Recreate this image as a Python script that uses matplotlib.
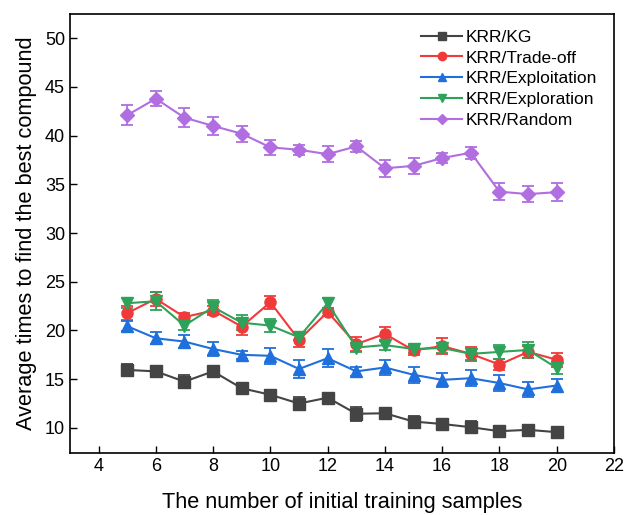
import matplotlib
matplotlib.use('Agg')
import matplotlib.pyplot as plt
import numpy as np

plt.rcParams['font.family'] = ['Liberation Sans', 'DejaVu Sans']

# 初始训练样本数
samples = np.arange(5, 21)

# 各策略的平均次数和误差
kg = [15.95, 15.8, 14.75, 15.8, 14.07, 13.4, 12.5, 13.1, 11.45, 11.5, 10.65, 10.4, 10.07, 9.66, 9.8, 9.56]
kg_err = [0.6, 0.6, 0.7, 0.3, 0.5, 0.3, 0.7, 0.4, 0.7, 0.5, 0.6, 0.3, 0.6, 0.3, 0.3, 0.4]

tradeoff = [21.78, 23.25, 21.37, 22.05, 20.4, 22.9, 19.03, 21.9, 18.6, 19.65, 17.95, 18.4, 17.6, 16.5, 17.8, 17.0]
tradeoff_err = [0.75, 0.7, 0.4, 0.5, 0.85, 0.65, 0.7, 0.4, 0.7, 0.75, 0.5, 0.8, 0.7, 0.6, 0.6, 0.7]

exploit = [20.44, 19.2, 18.86, 18.1, 17.5, 17.4, 16.05, 17.15, 15.8, 16.2, 15.45, 14.93, 15.1, 14.6, 13.95, 14.35]
exploit_err = [0.5, 0.6, 0.7, 0.7, 0.4, 0.8, 0.9, 0.9, 0.5, 0.8, 0.8, 0.7, 0.8, 0.8, 0.8, 0.7]

explore = [22.8, 23.0, 20.5, 22.4, 20.8, 20.5, 19.3, 22.8, 18.25, 18.5, 18.1, 18.2, 17.6, 17.8, 18.0, 16.15]
explore_err = [0.5, 0.9, 0.5, 0.7, 0.8, 0.7, 0.3, 0.5, 0.5, 0.5, 0.4, 0.5, 0.6, 0.7, 0.8, 0.6]

rand = [42.1, 43.8, 41.85, 41.0, 40.2, 38.8, 38.55, 38.1, 38.9, 36.65, 36.9, 37.7, 38.25, 34.25, 34.0, 34.2]
rand_err = [1.0, 0.8, 1.0, 0.95, 0.8, 0.8, 0.5, 0.8, 0.6, 0.85, 0.8, 0.5, 0.6, 0.85, 0.8, 0.9]

labels = ['KRR/KG', 'KRR/Trade-off', 'KRR/Exploitation', 'KRR/Exploration', 'KRR/Random']
colors = ['#444444', '#f03a3a', '#1f6fdc', '#2fa25a', '#b06ee0']
markers = ['s', 'o', '^', 'v', 'D']
series = [(kg, kg_err), (tradeoff, tradeoff_err), (exploit, exploit_err),
          (explore, explore_err), (rand, rand_err)]

fig = plt.figure(figsize=(6.24, 5.15), dpi=100)
ax = fig.add_axes([0.112, 0.12, 0.872, 0.853])

for (vals, errs), lab, c, m in zip(series, labels, colors, markers):
    ms = 8 if m != 'D' else 7
    ax.errorbar(samples, vals, yerr=errs, color=c, marker=m, markersize=ms,
                linewidth=1.5, elinewidth=1.3, capsize=4, capthick=1.3, label=lab)

ax.set_xlim(3, 22)
ax.set_ylim(7.4, 52.5)
ax.set_xticks(np.arange(4, 23, 2))
ax.set_yticks(np.arange(10, 51, 5))
ax.tick_params(direction='in', labelsize=13, length=5, width=1)
for s in ax.spines.values():
    s.set_linewidth(1.2)

ax.set_xlabel('The number of initial training samples', fontsize=15.7, labelpad=12)
ax.set_ylabel('Average times to find the best compound', fontsize=15.7, labelpad=6)

# 图例：不显示误差线，标记缩小
handles, labs = ax.get_legend_handles_labels()
handles = [h[0] for h in handles]
ax.legend(handles, labs, loc='upper right', frameon=False, fontsize=12.5, handlelength=2.4,
          handletextpad=0.2, labelspacing=0.33, borderaxespad=0.5, markerscale=0.75,
          bbox_to_anchor=(0.998, 1.0))

plt.savefig('out.png', dpi=100)
